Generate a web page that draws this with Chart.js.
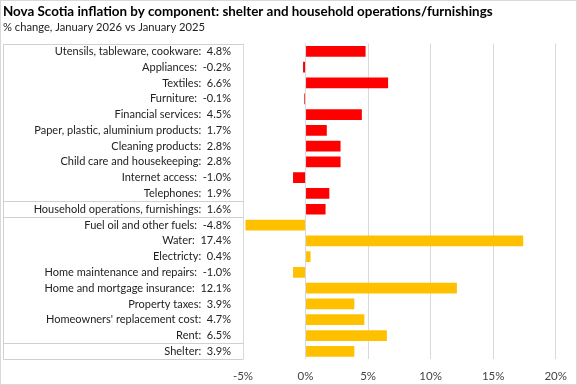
<!DOCTYPE html>
<html>
<head>
<meta charset="utf-8">
<script src="https://cdn.jsdelivr.net/npm/chart.js@4"></script>
<style>
  html, body { margin: 0; padding: 0; background: #fff; }
  #wrap { width: 577px; height: 385px; }
</style>
</head>
<body>
<div id="wrap"><canvas id="chart" width="577" height="385"></canvas></div>
<script>
// components, top to bottom
const components = [
  "Utensils, tableware, cookware",
  "Appliances",
  "Textiles",
  "Furniture",
  "Financial services",
  "Paper, plastic, aluminium products",
  "Cleaning products",
  "Child care and housekeeping",
  "Internet access",
  "Telephones",
  "Household operations, furnishings",
  "Fuel oil and other fuels",
  "Water",
  "Electricty",
  "Home maintenance and repairs",
  "Home and mortgage insurance",
  "Property taxes",
  "Homeowners' replacement cost",
  "Rent",
  "Shelter"
];

// % change Jan 2026 vs Jan 2025
const changes = [4.8, -0.2, 6.6, -0.1, 4.5, 1.7, 2.8, 2.8, -1.0, 1.9, 1.6,
                 -4.8, 17.4, 0.4, -1.0, 12.1, 3.9, 4.7, 6.5, 3.9];

// which group each row belongs to
const groups = ["hh", "hh", "hh", "hh", "hh", "hh", "hh", "hh", "hh", "hh", "hh",
                "sh", "sh", "sh", "sh", "sh", "sh", "sh", "sh", "sh"];

const xTicks = [-5, 0, 5, 10, 15, 20];

// rows after which a separator line is drawn in the label table
const separatorsAfter = [9, 10, 18];

const labels = components.map((c, i) => c + ":  " + changes[i].toFixed(1) + "%");
const colors = groups.map(g => g === "hh" ? "#FF0000" : "#FFC000");

const FONT = "Lato, sans-serif";

// draws the table box round the labels and the outer frame
const tableLines = {
  id: "tableLines",
  afterDraw(chart) {
    const ctx = chart.ctx;
    const area = chart.chartArea;
    const y = chart.scales.y;
    const left = 3.5;
    const right = Math.round(area.left) + 0.5;
    ctx.save();
    ctx.strokeStyle = "#d0d0d0";
    ctx.lineWidth = 1;
    ctx.beginPath();
    const top = Math.round(area.top) + 0.5;
    const bottom = Math.round(area.bottom) + 0.5;
    ctx.moveTo(left, top); ctx.lineTo(right, top);
    ctx.moveTo(left, bottom); ctx.lineTo(right, bottom);
    ctx.moveTo(left, top); ctx.lineTo(left, bottom);
    separatorsAfter.forEach(i => {
      const yy = Math.round((y.getPixelForValue(i) + y.getPixelForValue(i + 1)) / 2) + 0.5;
      ctx.moveTo(left, yy); ctx.lineTo(right, yy);
    });
    ctx.stroke();
    // outer frame
    ctx.strokeStyle = "#d9d9d9";
    ctx.strokeRect(0.5, 0.5, chart.width - 1, chart.height - 1);
    ctx.restore();
  }
};

new Chart(document.getElementById("chart"), {
  type: "bar",
  data: {
    labels: labels,
    datasets: [{
      data: changes,
      backgroundColor: colors,
      borderWidth: 0,
      barPercentage: 0.68,
      categoryPercentage: 1
    }]
  },
  options: {
    indexAxis: "y",
    responsive: false,
    animation: false,
    layout: { padding: { left: 3, right: 19, top: 0, bottom: -8 } },
    plugins: {
      legend: { display: false },
      tooltip: { enabled: false },
      title: {
        display: true,
        text: "Nova Scotia inflation by component: shelter and household operations/furnishings",
        align: "start",
        color: "#000",
        font: { family: FONT, size: 13.4, weight: "bold" },
        padding: { top: 4, bottom: 0 }
      },
      subtitle: {
        display: true,
        text: "% change, January 2026 vs January 2025",
        align: "start",
        color: "#222",
        font: { family: FONT, size: 11.2 },
        padding: { top: 1, bottom: 9 }
      }
    },
    scales: {
      x: {
        min: -5,
        max: 20,
        afterBuildTicks(scale) {
          scale.ticks = xTicks.map(v => ({ value: v }));
        },
        ticks: {
          callback: v => v + "%",
          color: "#444",
          font: { family: FONT, size: 11.5 },
          padding: 10,
          maxRotation: 0
        },
        grid: { color: "#d9d9d9", drawTicks: false },
        border: { display: false }
      },
      y: {
        afterFit(scale) { scale.width = 240; },
        ticks: {
          color: "#222",
          font: { family: FONT, size: 11 },
          padding: 12,
          autoSkip: false
        },
        grid: { display: false, drawTicks: false },
        border: { display: false }
      }
    }
  },
  plugins: [tableLines]
});
</script>
</body>
</html>
